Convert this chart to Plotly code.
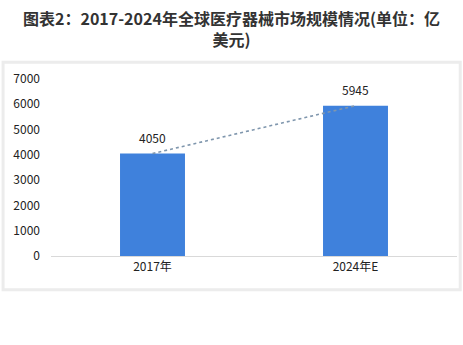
import plotly.graph_objects as go

categories = ["2017年", "2024年E"]
values = [4050, 5945]
y_ticks = [0, 1000, 2000, 3000, 4000, 5000, 6000, 7000]
title_lines = ["图表2：2017-2024年全球医疗器械市场规模情况(单位：亿", "美元)"]

font_family = "Noto Sans CJK SC, Noto Sans, sans-serif"

fig = go.Figure()
fig.add_trace(go.Bar(
    x=categories, y=values,
    marker=dict(color="#3f81dc", line=dict(width=0)),
    width=0.32,
    hoverinfo="skip",
))
fig.add_trace(go.Scatter(
    x=categories, y=values,
    mode="lines",
    line=dict(color="#7f96ad", width=1.6, dash="dot"),
    hoverinfo="skip",
))
for c, v in zip(categories, values):
    fig.add_annotation(
        x=c, y=v, text=str(v), showarrow=False,
        yanchor="bottom", yshift=6,
        font=dict(family=font_family, size=12, color="#222222"),
    )

fig.add_annotation(
    x=0.4446, y=1.2825, xref="paper", yref="paper",
    xanchor="center", yanchor="middle", align="center",
    text="<br>".join("<b>" + t + "</b>" for t in title_lines), showarrow=False,
    font=dict(family=font_family, size=16, color="#333333"),
)

fig.add_shape(
    type="rect", xref="paper", yref="paper",
    x0=-0.118, x1=1.008, y0=-0.19, y1=1.095,
    line=dict(color="#ececec", width=3),
    layer="below",
)

fig.update_layout(
    width=463, height=345,
    margin=dict(l=51, r=6, t=79, b=89),
    paper_bgcolor="white", plot_bgcolor="white",
    showlegend=False,
    font=dict(family=font_family, size=12, color="#333333"),
)
fig.update_xaxes(
    showline=True, linecolor="#d9d9d9", linewidth=1,
    showgrid=False, ticks="", tickfont=dict(size=12, color="#222222"),
    fixedrange=True,
)
fig.update_yaxes(
    range=[0, 7000], tickvals=y_ticks, showgrid=False, zeroline=False,
    showline=False, ticks="", ticklabelstandoff=10,
    tickfont=dict(size=12, color="#222222"), fixedrange=True,
)

fig.write_html("out.html")
